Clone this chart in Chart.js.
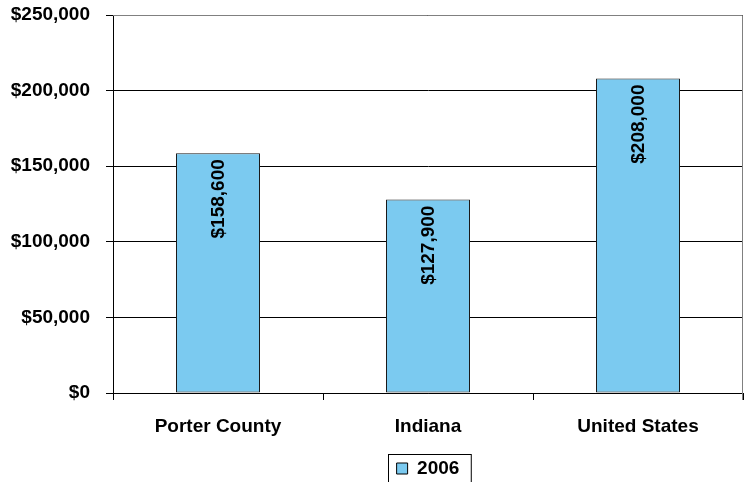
<!DOCTYPE html>
<html>
<head>
<meta charset="utf-8">
<script src="https://cdn.jsdelivr.net/npm/chart.js@4"></script>
<style>
  body { margin: 0; background: #fff; }
  #wrap { width: 746px; height: 482px; }
</style>
</head>
<body>
<div id="wrap"><canvas id="price"></canvas></div>
<script>
var places = ["Porter County", "Indiana", "United States"];
var median2006 = [158600, 127900, 208000];
var seriesName = "2006";
var yTicks = [0, 50000, 100000, 150000, 200000, 250000];

var FONT = "'Liberation Sans', Arial, sans-serif";

function money(v){
  return "$" + v.toLocaleString("en-US");
}

// riquadro grigio dell'area del grafico
var plotBorder = {
  id: "plotBorder",
  beforeDatasetsDraw: function(chart){
    var a = chart.chartArea, c = chart.ctx;
    c.save();
    c.strokeStyle = "#808080";
    c.lineWidth = 1;
    c.beginPath();
    c.moveTo(a.left, a.top + 0.5);
    c.lineTo(a.right - 0.5, a.top + 0.5);
    c.lineTo(a.right - 0.5, a.bottom + 7);
    c.stroke();
    c.restore();
  }
};

// etichette verticali dentro le barre
var barLabels = {
  id: "barLabels",
  afterDatasetsDraw: function(chart){
    var c = chart.ctx;
    var meta = chart.getDatasetMeta(0);
    c.save();
    c.font = "bold 19px " + FONT;
    c.fillStyle = "#000";
    c.textAlign = "right";
    c.textBaseline = "middle";
    meta.data.forEach(function(bar, i){
      c.save();
      c.translate(bar.x + 1, bar.y + 6);
      c.rotate(-Math.PI / 2);
      c.fillText(money(median2006[i]), 0, 0);
      c.restore();
    });
    c.restore();
  }
};

// legenda centrata sotto l'area del grafico, con cornice
var legendBox = {
  id: "legendBox",
  afterLayout: function(chart){
    var l = chart.legend;
    l.left = chart.chartArea.left;
    l.right = chart.chartArea.right;
    l.top += 6;
    l.bottom += 6;
  },
  afterDraw: function(chart){
    var l = chart.legend, c = chart.ctx;
    if (!l || !l.legendHitBoxes.length) return;
    var h = l.legendHitBoxes[0];
    c.save();
    c.strokeStyle = "#000";
    c.lineWidth = 1;
    c.strokeRect(Math.round(h.left) - 8.5, Math.round(h.top) - 4.5, h.width + 20, 40);
    c.restore();
  }
};

var ctx = document.getElementById("price").getContext("2d");
var chart = new Chart(ctx, {
  type: "bar",
  data: {
    labels: places,
    datasets: [{
      label: seriesName,
      data: median2006,
      backgroundColor: "#7BCAF0",
      borderColor: "#1a1a1a",
      borderWidth: 1,
      borderSkipped: false,
      categoryPercentage: 1,
      barPercentage: 0.4
    }]
  },
  options: {
    responsive: true,
    maintainAspectRatio: false,
    animation: false,
    layout: { padding: { top: 0, right: 3, left: 0, bottom: 0 } },
    plugins: {
      tooltip: { enabled: false },
      legend: {
        position: "bottom",
        labels: {
          color: "#000",
          font: { family: FONT, size: 19, weight: "bold" },
          boxWidth: 11,
          boxHeight: 11,
          padding: 3,
          generateLabels: function(ch){
            return [{
              text: seriesName,
              fillStyle: "#7BCAF0",
              strokeStyle: "#000",
              lineWidth: 1,
              datasetIndex: 0
            }];
          }
        }
      }
    },
    scales: {
      x: {
        afterFit: function(axis){ axis.height = 57; },
        grid: {
          offset: true,
          drawOnChartArea: false,
          color: "#000",
          tickLength: 7
        },
        border: { color: "#000" },
        ticks: {
          color: "#000",
          padding: 15,
          font: { family: FONT, size: 19, weight: "bold" }
        }
      },
      y: {
        min: 0,
        max: 250000,
        afterBuildTicks: function(axis){
          axis.ticks = yTicks.map(function(v){ return { value: v }; });
        },
        afterFit: function(axis){
          axis.width = 113;
          axis.paddingTop = 15;
          axis.paddingBottom = 0;
        },
        grid: { color: "#000", tickLength: 7 },
        border: { color: "#000" },
        ticks: {
          color: "#000",
          padding: 16,
          font: { family: FONT, size: 19, weight: "bold" },
          callback: function(v){ return money(v); }
        }
      }
    }
  },
  plugins: [plotBorder, barLabels, legendBox]
});
</script>
</body>
</html>
